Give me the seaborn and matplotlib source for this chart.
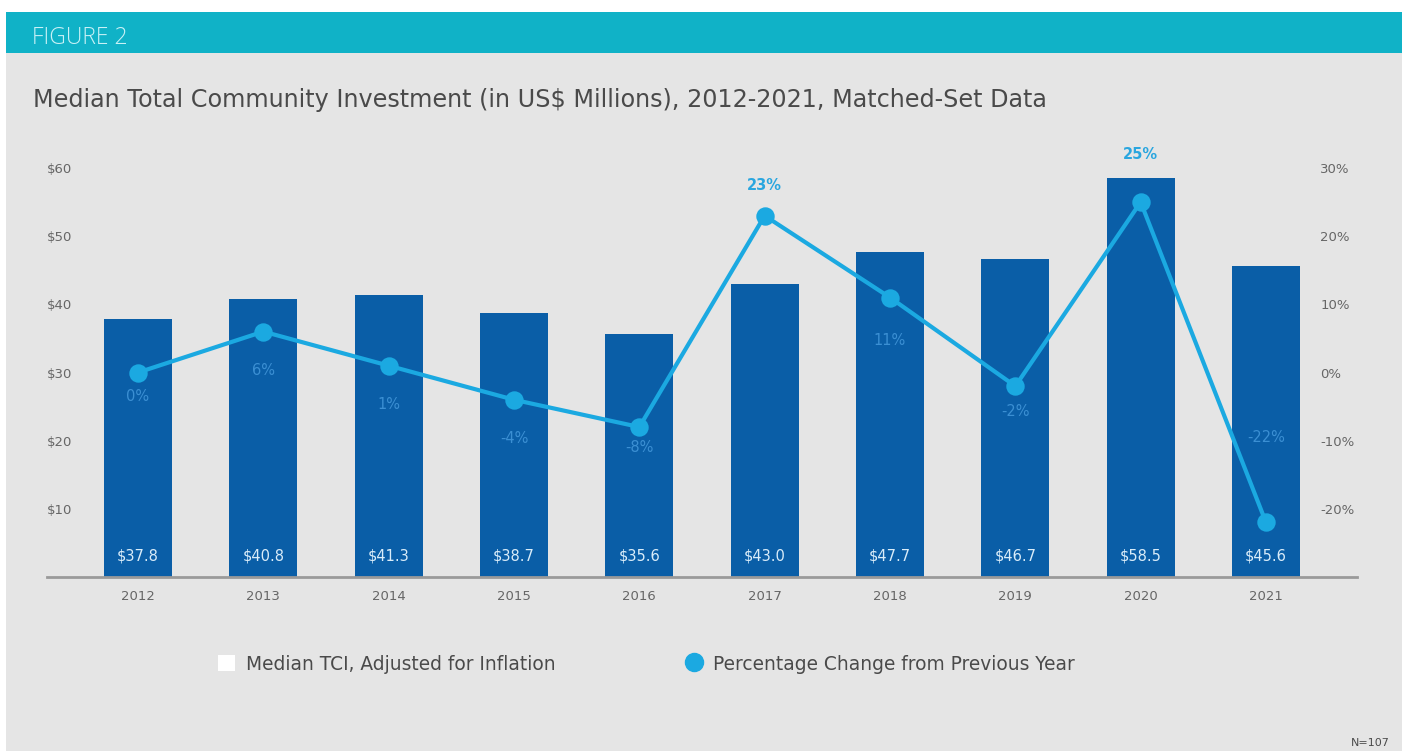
import matplotlib
matplotlib.use("Agg")
import matplotlib.pyplot as plt
from matplotlib.patches import Rectangle, Patch
from matplotlib.lines import Line2D
import seaborn as sns

# Data
years = ["2012", "2013", "2014", "2015", "2016", "2017", "2018", "2019", "2020", "2021"]
median_tci = [37.8, 40.8, 41.3, 38.7, 35.6, 43.0, 47.7, 46.7, 58.5, 45.6]
pct_change = [0, 6, 1, -4, -8, 23, 11, -2, 25, -22]

# Label offsets (points) for the percentage labels relative to each marker
pct_label_offsets = [-17, -28, -28, -28, -15, 22, -31, -18, 34, 61]

left_ticks = [10, 20, 30, 40, 50, 60]
right_ticks = [-20, -10, 0, 10, 20, 30]

BAR = "#0a5ea7"
LINE = "#1ba9e1"
PANEL = "#e5e5e5"
HEADER = "#10b2c7"
TEXT = "#4a4a4a"
TICK = "#666666"

sns.set_style("white")
plt.rcParams["font.family"] = ["DejaVu Sans"]

W, H = 1406, 751
fig = plt.figure(figsize=(W / 100, H / 100), dpi=100)
fig.patch.set_facecolor("white")

# Panel background and header band
fig.patches.append(Rectangle((6 / W, 0), 1396 / W, 1 - 53 / H,
                             transform=fig.transFigure, facecolor=PANEL,
                             edgecolor="none", zorder=-10))
fig.patches.append(Rectangle((6 / W, 1 - 53 / H), 1396 / W, 41 / H,
                             transform=fig.transFigure, facecolor=HEADER,
                             edgecolor="none", zorder=-9))
fig.text(32 / W, 1 - 38 / H, "FIGURE 2", color="#c9f1f6", fontsize=16.5,
         fontweight="light", family=["Open Sans", "DejaVu Sans"],
         va="center", ha="left")
fig.text(33 / W, 1 - 100 / H,
         "Median Total Community Investment (in US$ Millions), 2012-2021, Matched-Set Data",
         color=TEXT, fontsize=17.2, va="center", ha="left")

# Main axes
ax = fig.add_axes([47 / W, 1 - 577 / H, 1310 / W, 409 / H])
ax.set_facecolor("none")
sns.barplot(x=years, y=median_tci, color=BAR, saturation=1, width=0.54,
            edgecolor="none", ax=ax)
ax.set_ylim(0, 60)

for i, v in enumerate(median_tci):
    ax.text(i, 3.1, f"${v:.1f}", ha="center", va="center", color="#d9ecf9",
            fontsize=10.5)

ax2 = ax.twinx()
sns.pointplot(x=years, y=pct_change, color=LINE, markers="o", ax=ax2,
              markersize=11, linewidth=3.0)
ax2.set_ylim(-30, 30)

for i, (p, off) in enumerate(zip(pct_change, pct_label_offsets)):
    above = off > 0 and p > 0
    ax2.annotate(f"{p}%", xy=(i, p), xytext=(0, off), textcoords="offset points",
                 ha="center", va="center", fontsize=10.5,
                 color="#2aa6df" if above else "#3b8fd3",
                 fontweight="bold" if above else "normal",
                 annotation_clip=False)

for a in (ax, ax2):
    a.set_xlim(-0.726, 9.726)
    for s in a.spines.values():
        s.set_visible(False)
    a.set_xlabel("")
    a.set_ylabel("")
    a.grid(False)

ax.spines["bottom"].set_visible(True)
ax.spines["bottom"].set_color("#9a9a9a")
ax.spines["bottom"].set_linewidth(2)

ax.set_yticks(left_ticks)
ax.set_yticklabels([f"${t}" for t in left_ticks])
ax.tick_params(axis="y", length=0, pad=-18, labelsize=9.5, labelcolor=TICK)
ax.tick_params(axis="x", length=0, pad=9, labelsize=9.5, labelcolor=TICK)

ax2.set_yticks(right_ticks)
ax2.set_yticklabels([f"{t}%" for t in right_ticks])
ax2.tick_params(axis="y", length=0, pad=-26.5, labelsize=9.5, labelcolor=TICK)
ax2.tick_params(axis="x", length=0)

# Legend
handles = [Patch(facecolor="white", edgecolor="none"),
           Line2D([], [], marker="o", linestyle="none", color=LINE, markersize=13)]
labels = ["Median TCI, Adjusted for Inflation", "Percentage Change from Previous Year"]
fig.legend(handles, labels, loc="center left", bbox_to_anchor=(201 / W, 1 - 664 / H),
           ncol=2, frameon=False, fontsize=13.4, handlelength=0.9, handleheight=0.9,
           handletextpad=0.6, columnspacing=7.0, labelcolor=TEXT)

fig.text(1390 / W, 1 - 743 / H, "N=107", ha="right", va="center", fontsize=8,
         color=TEXT)

fig.savefig("out.png", dpi=100, facecolor=fig.get_facecolor())
